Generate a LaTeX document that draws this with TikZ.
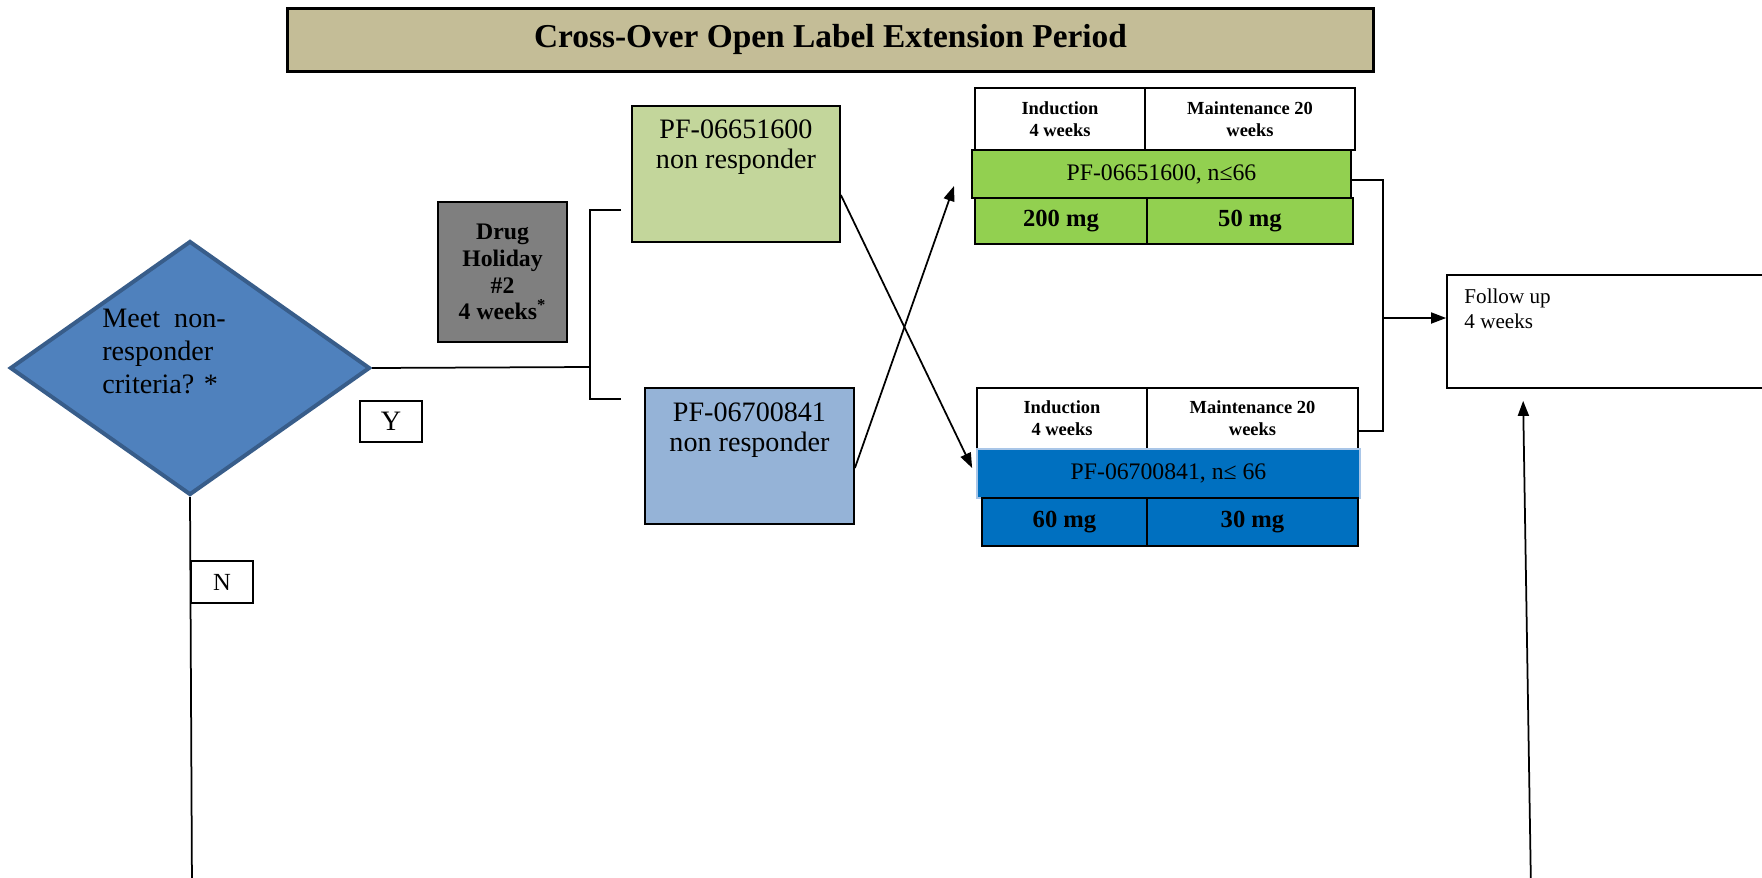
\documentclass[tikz,border=0pt]{standalone}
\usepackage{fontspec}
\setmainfont{Liberation Serif}
\usetikzlibrary{positioning,shapes.geometric,arrows.meta}
\newcommand{\fsz}[2]{\fontsize{#1}{#2}\selectfont}
\definecolor{titletan}{HTML}{C4BD97}
\definecolor{holgray}{HTML}{7F7F7F}
\definecolor{critblue}{HTML}{4F81BD}
\definecolor{critedge}{HTML}{385D8A}
\definecolor{nrgreen}{HTML}{C3D69B}
\definecolor{nrblue}{HTML}{95B3D7}
\definecolor{bargreen}{HTML}{92D050}
\definecolor{barblue}{HTML}{0070C0}
\definecolor{baredge}{HTML}{A9C6E8}
\begin{document}
\begin{tikzpicture}[x=0.2mm,y=-0.2mm,
        box/.style={draw,rectangle,line width=0.35mm,inner sep=0pt},
        cell/.style={box,line width=0.3mm,align=center},
        head/.style={cell,font=\fsz{10.5}{12.5}\bfseries},
        dose/.style={cell,line width=0.4mm,font=\fsz{14}{16}\bfseries},
        line/.style={line width=0.35mm},
        arr/.style={-{Triangle[length=3mm,width=2.2mm]}}]
        \useasboundingbox (0,0) rectangle (1762,877);
        %% Title
        \node[box,line width=0.6mm,fill=titletan,minimum width=217mm,minimum height=12.6mm,
            font=\fsz{19}{22}\bfseries] (title) at (830.5,39.5) {Cross-Over Open Label Extension Period};
        %% Decision
        \node[diamond,draw=critedge,line width=0.8mm,fill=critblue,minimum width=72mm,
            minimum height=50.8mm,inner sep=0pt] (crit) at (190,368) {};
        \node[anchor=north west,align=left,inner sep=0pt,font=\fsz{16}{18.6}] (crittxt) at (102,309)
            {Meet\ \ non-\\responder\\criteria? *};
        \node[box,line width=0.3mm,minimum width=12.4mm,minimum height=8.2mm,font=\fsz{16}{18}] (yes) at (391,421.5) {Y};
        \node[box,line width=0.3mm,minimum width=12.4mm,minimum height=8.4mm,font=\fsz{14}{16}] (no) at (222,582) {N};
        %% Drug holiday
        \node[box,line width=0.5mm,fill=holgray,minimum width=25.8mm,minimum height=28mm,align=center,
            font=\fsz{13.5}{15.3}\bfseries] (hol) at (502.5,272) {Drug\\Holiday\\\#2\\4 weeks\textsuperscript{*}};
        %% Non responders
        \node[box,fill=nrgreen,minimum width=41.6mm,minimum height=27.2mm] (nr1) at (736,174) {};
        \node[below=2.8mm of nr1.north,inner sep=0pt,align=center,font=\fsz{16}{17.5}] (nr1txt)
            {PF-06651600\\non responder};
        \node[box,fill=nrblue,minimum width=41.8mm,minimum height=27.2mm] (nr2) at (749.5,456) {};
        \node[below=3mm of nr2.north,inner sep=0pt,align=center,font=\fsz{16}{17.5}] (nr2txt)
            {PF-06700841\\non responder};
        %% PF-06651600 arm
        \node[head,minimum width=34mm,minimum height=12.4mm] (ind1) at (1060,119) {Induction\\4 weeks};
        \node[head,minimum width=42mm,minimum height=12.4mm] (mnt1) at (1250,119) {Maintenance 20\\weeks};
        \node[box,line width=0.4mm,fill=bargreen,minimum width=75.8mm,minimum height=9.6mm,
            font=\fsz{13.5}{16}] (bar1) at (1161.5,174) {PF-06651600, n≤66};
        \node[dose,fill=bargreen,minimum width=34.4mm,minimum height=9.2mm] (dose1a) at (1061,221) {200 mg};
        \node[dose,fill=bargreen,minimum width=41.2mm,minimum height=9.2mm] (dose1b) at (1250,221) {50 mg};
        %% PF-06700841 arm
        \node[head,minimum width=34mm,minimum height=12.2mm] (ind2) at (1062,418.5) {Induction\\4 weeks};
        \node[head,minimum width=42.2mm,minimum height=12.2mm] (mnt2) at (1252.5,418.5) {Maintenance 20\\weeks};
        \node[box,draw=baredge,fill=barblue,minimum width=76.6mm,minimum height=9.8mm,
            font=\fsz{13.5}{16}] (bar2) at (1168.5,473.5) {PF-06700841, n≤ 66};
        \node[dose,fill=barblue,minimum width=33mm,minimum height=9.6mm] (dose2a) at (1064.5,522) {60 mg};
        \node[dose,fill=barblue,minimum width=42.2mm,minimum height=9.6mm] (dose2b) at (1252.5,522) {30 mg};
        %% Follow up
        \node[box,minimum width=66mm,minimum height=22.6mm] (fol) at (1612,331.5) {};
        \node[anchor=north west,align=left,inner sep=0pt,font=\fsz{12}{14.2}] (foltxt)
            at ([xshift=3.6mm,yshift=-2.8mm]fol.north west) {Follow up\\4 weeks};
        %% Connectors
        \coordinate (brk) at (590,367);
        \coordinate (brkT) at (621,210);
        \coordinate (brkB) at (621,399);
        \draw[line] (crit.east) -- (brk);
        \draw[line] (brkT) -| (brk) |- (brkB);
        \draw[line,arr] ([yshift=-4.2mm]nr1.east) -- ([xshift=-0.8mm,yshift=1.1mm]bar2.west);
        \draw[line,arr] ([yshift=-2.4mm]nr2.east) -- ([xshift=-3.4mm,yshift=-2.4mm]bar1.west);
        \coordinate (mrg) at (1383,318);
        \draw[line] ([yshift=-1.2mm]bar1.east) -| (mrg) |- ([yshift=-2.5mm]mnt2.east);
        \draw[line,arr] (mrg) -- (mrg -| fol.west);
        \coordinate (nend) at (192,890);
        \draw[line] (crit.south) -- (nend);
        \coordinate (fbeg) at (1531,890);
        \draw[line,arr] (fbeg) -- ([xshift=15.4mm,yshift=-2.4mm]fol.south west);
    \end{tikzpicture}
\end{document}
